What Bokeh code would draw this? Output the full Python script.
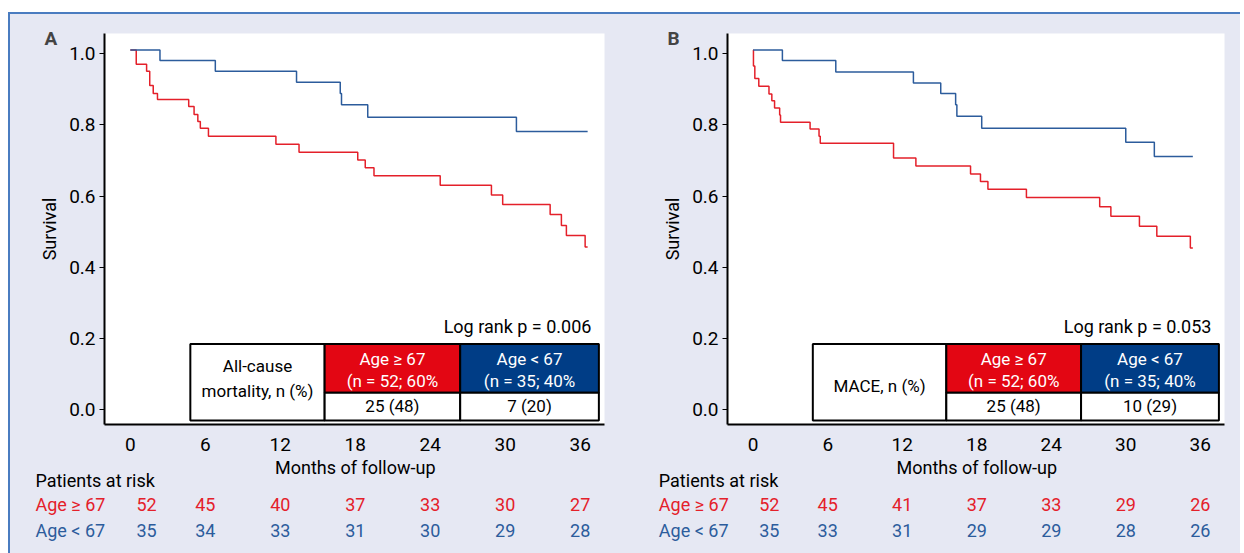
from bokeh.plotting import figure
from bokeh.models import Label, FixedTicker, Range1d, CustomJSTickFormatter, ColumnDataSource
from bokeh.layouts import row, column
from bokeh.core.properties import value
from bokeh.embed import file_html
from bokeh.resources import INLINE

FONT = "Liberation Sans Narrow, Roboto, sans-serif"
RED = "#E4202A"
BLUE = "#2C5C9C"
HRED = "#E30613"
HBLUE = "#003D86"
BG = "#E6E8F3"

# Panel A: all-cause mortality
a_red_t = [0, 0.47, 1.3, 1.55, 1.83, 2.17, 4.67, 5.1, 5.4, 5.6, 6.25, 11.65, 13.5, 18.2, 18.8, 19.5, 24.8, 28.9, 29.8, 33.6, 34.5, 34.9, 36.4, 36.6]
a_red_s = [1.01, 0.97, 0.95, 0.91, 0.888, 0.871, 0.851, 0.829, 0.809, 0.79, 0.768, 0.745, 0.723, 0.701, 0.679, 0.657, 0.63, 0.603, 0.576, 0.548, 0.517, 0.489, 0.457, 0.457]
a_blue_t = [0, 2.37, 6.8, 13.3, 16.8, 16.9, 19.0, 30.9, 36.6]
a_blue_s = [1.01, 0.98, 0.95, 0.919, 0.888, 0.856, 0.821, 0.781, 0.781]
# Panel B: MACE
b_red_t = [0, 0.02, 0.13, 0.45, 1.27, 1.5, 1.72, 2.13, 2.2, 4.58, 5.3, 5.4, 11.3, 13.1, 17.5, 18.3, 18.9, 22.0, 27.9, 28.8, 31.1, 32.5, 35.2, 35.4]
b_red_s = [1.01, 0.965, 0.93, 0.908, 0.886, 0.867, 0.847, 0.827, 0.807, 0.788, 0.768, 0.748, 0.707, 0.684, 0.662, 0.641, 0.619, 0.596, 0.57, 0.543, 0.515, 0.487, 0.454, 0.454]
b_blue_t = [0, 2.35, 6.65, 12.9, 15.1, 16.3, 16.4, 18.4, 30.0, 32.3, 35.4]
b_blue_s = [1.01, 0.98, 0.948, 0.917, 0.888, 0.856, 0.824, 0.79, 0.751, 0.711, 0.711]

x_ticks = [0, 6, 12, 18, 24, 30, 36]
risk_x = [1.3, 6, 12, 18, 24, 30, 36]
a_risk_old = [52, 45, 40, 37, 33, 30, 27]
a_risk_young = [35, 34, 33, 31, 30, 29, 28]
b_risk_old = [52, 45, 41, 37, 33, 29, 26]
b_risk_young = [35, 33, 31, 29, 29, 28, 26]

group_old = ["Age ≥ 67", "(n = 52; 60%"]
group_young = ["Age < 67", "(n = 35; 40%"]
a_counts = ["25 (48)", "7 (20)"]
b_counts = ["25 (48)", "10 (29)"]

FS = "18px"
X0, X1 = -2.07, 37.95
RIGHT = 16
H_TOP = 442
H_BOT = 97


def top(letter, width, left, red_t, red_s, blue_t, blue_s, pval, rowlabel, counts):
    p = figure(width=width, height=H_TOP, output_backend="svg", toolbar_location=None,
               x_range=Range1d(X0, X1), y_range=Range1d(-0.041, 1.056),
               min_border_left=left, min_border_right=RIGHT, min_border_top=19, min_border_bottom=32)
    p.title.text = letter
    p.title.align = "left"
    p.title.offset = -60
    p.title.standoff = -33
    p.title.text_font = FONT
    p.title.text_font_size = "19px"
    p.title.text_font_style = "bold"
    p.background_fill_color = "white"
    p.border_fill_color = BG
    p.outline_line_color = None
    p.grid.visible = False
    p.xaxis.ticker = FixedTicker(ticks=x_ticks)
    p.yaxis.ticker = FixedTicker(ticks=[0, 0.2, 0.4, 0.6, 0.8, 1.0])
    p.yaxis.formatter = CustomJSTickFormatter(code="return tick.toFixed(1);")
    for ax in (p.xaxis[0], p.yaxis[0]):
        ax.axis_line_color = "black"
        ax.axis_line_width = 2
        ax.major_label_text_font = FONT
        ax.major_label_text_font_size = "19px"
        ax.major_label_text_color = "black"
        ax.axis_label_text_font = FONT
        ax.axis_label_text_font_size = FS
        ax.axis_label_text_font_style = "normal"
        ax.axis_label_text_color = "black"
        ax.minor_tick_line_color = None
    p.xaxis.major_tick_line_color = None
    p.xaxis.major_label_standoff = 7
    p.yaxis.major_tick_line_color = "black"
    p.yaxis.major_tick_in = 0
    p.yaxis.major_tick_out = 5
    p.yaxis.major_label_standoff = 4
    p.yaxis.axis_label = "Survival"
    p.yaxis.axis_label_standoff = 6

    p.step(red_t, red_s, mode="after", line_color=RED, line_width=1.5)
    p.step(blue_t, blue_s, mode="after", line_color=BLUE, line_width=1.5)

    x0, x1, x2, x3 = 4.8, 15.55, 26.4, 37.5
    yb, ym, yt = -0.03, 0.048, 0.185
    p.quad(left=[x0, x1, x1, x2, x2], right=[x1, x2, x2, x3, x3],
           bottom=[yb, ym, yb, ym, yb], top=[yt, yt, ym, yt, ym],
           fill_color=["white", HRED, "white", HBLUE, "white"],
           line_color="black", line_width=2)
    tk = dict(text_font=FONT, text_font_size="17px", text_align="center", text_baseline="middle")
    if len(rowlabel) == 2:
        p.add_layout(Label(x=(x0 + x1) / 2, y=0.123, text=rowlabel[0], text_color="black", **tk))
        p.add_layout(Label(x=(x0 + x1) / 2, y=0.052, text=rowlabel[1], text_color="black", **tk))
    else:
        p.add_layout(Label(x=(x0 + x1) / 2, y=0.066, text=rowlabel[0], text_color="black", **tk))
    for cx, g in (((x1 + x2) / 2, group_old), ((x2 + x3) / 2, group_young)):
        p.add_layout(Label(x=cx, y=0.143, text=g[0], text_color="white", **tk))
        p.add_layout(Label(x=cx, y=0.082, text=g[1], text_color="white", **tk))
    for cx, c in (((x1 + x2) / 2, counts[0]), ((x2 + x3) / 2, counts[1])):
        p.add_layout(Label(x=cx, y=0.01, text=c, text_color="black", **tk))
    p.add_layout(Label(x=36.9, y=0.233, text=pval, text_color="black", text_font=FONT,
                       text_font_size=FS, text_align="right", text_baseline="middle"))
    return p


def bottom(width, left, r_old, r_young):
    s = (width - left - RIGHT) / (X1 - X0)
    bx0 = X0 - left / s
    bx1 = bx0 + width / s
    q = figure(width=width, height=H_BOT, output_backend="svg", toolbar_location=None,
               x_range=Range1d(bx0, bx1), y_range=Range1d(H_BOT, 0),
               min_border=0, x_axis_type=None, y_axis_type=None)
    q.background_fill_color = BG
    q.border_fill_color = BG
    q.outline_line_color = None
    q.grid.visible = False
    q.text(x=[18], y=[11], text=["Months of follow-up"], text_font=value(FONT), text_font_size=FS,
           text_align="center", text_baseline="middle", text_color="black")
    lx = -7.6
    q.text(x=[lx, lx, lx], y=[24, 48, 74], text=["Patients at risk", "Age ≥ 67", "Age < 67"],
           text_font=value(FONT), text_font_size=FS, text_baseline="middle",
           text_color=["black", RED, BLUE])
    src = ColumnDataSource(dict(x=risk_x + risk_x, y=[48] * 7 + [74] * 7,
                                t=[str(v) for v in r_old + r_young],
                                c=[RED] * 7 + [BLUE] * 7))
    q.text(x="x", y="y", text="t", text_color="c", source=src, text_font=value(FONT),
           text_font_size=FS, text_align="center", text_baseline="middle")
    return q


pa = top("A", 610, 94, a_red_t, a_red_s, a_blue_t, a_blue_s, "Log rank p = 0.006",
         ["All-cause", "mortality, n (%)"], a_counts)
pb = top("B", 620, 107, b_red_t, b_red_s, b_blue_t, b_blue_s, "Log rank p = 0.053",
         ["MACE, n (%)"], b_counts)
qa = bottom(610, 94, a_risk_old, a_risk_young)
qb = bottom(620, 107, b_risk_old, b_risk_young)

layout = column(row(pa, pb, spacing=0), row(qa, qb, spacing=0), spacing=0,
                styles={"border-top": "2px solid #4A7CC0", "border-left": "2px solid #4A7CC0",
                        "margin-top": "12px", "margin-left": "8px", "background-color": BG})
open("out.html", "w").write(file_html(layout, INLINE))
